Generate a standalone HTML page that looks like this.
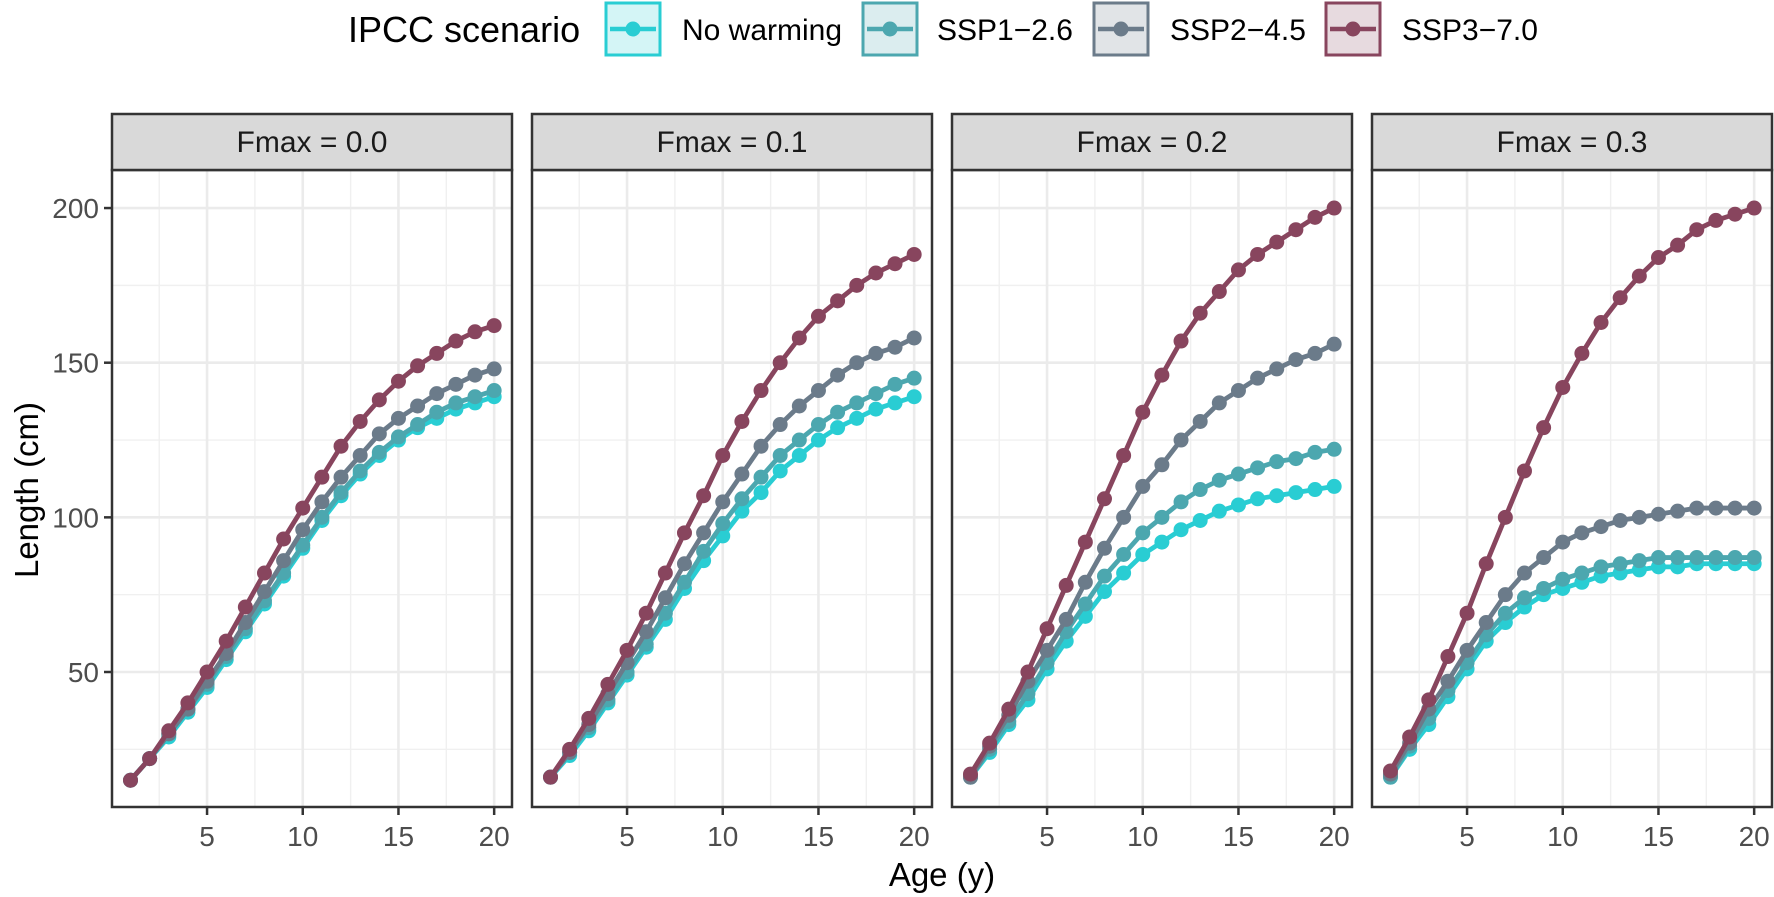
<!DOCTYPE html>
<html><head><meta charset="utf-8"><style>
html,body{margin:0;padding:0;background:#fff}
svg{display:block;font-family:"Liberation Sans",Arial,sans-serif}
</style></head><body>
<svg id="s" width="1774" height="897" xmlns="http://www.w3.org/2000/svg">
<rect width="1774" height="897" fill="#fff"/>
<g id="legend">
<text x="348" y="42" font-size="36" fill="#000">IPCC scenario</text>
<rect x="606" y="3" width="54" height="52" fill="#d4f5f6" stroke="#29cdd3" stroke-width="3"/>
<line x1="610" y1="29" x2="656" y2="29" stroke="#29cdd3" stroke-width="4.5"/><circle cx="633" cy="29" r="7.5" fill="#29cdd3"/>
<text x="682" y="40" font-size="30" fill="#000">No warming</text>
<rect x="863" y="3" width="54" height="52" fill="#dbedef" stroke="#4ca7af" stroke-width="3"/>
<line x1="867" y1="29" x2="913" y2="29" stroke="#4ca7af" stroke-width="4.5"/><circle cx="890" cy="29" r="7.5" fill="#4ca7af"/>
<text x="937" y="40" font-size="30" fill="#000">SSP1−2.6</text>
<rect x="1094" y="3" width="54" height="52" fill="#e1e4e7" stroke="#6b7b8a" stroke-width="3"/>
<line x1="1098" y1="29" x2="1144" y2="29" stroke="#6b7b8a" stroke-width="4.5"/><circle cx="1121" cy="29" r="7.5" fill="#6b7b8a"/>
<text x="1170" y="40" font-size="30" fill="#000">SSP2−4.5</text>
<rect x="1326" y="3" width="54" height="52" fill="#e7dadf" stroke="#88455e" stroke-width="3"/>
<line x1="1330" y1="29" x2="1376" y2="29" stroke="#88455e" stroke-width="4.5"/><circle cx="1353" cy="29" r="7.5" fill="#88455e"/>
<text x="1402" y="40" font-size="30" fill="#000">SSP3−7.0</text>
</g>
<text x="38" y="490" font-size="33" fill="#000" text-anchor="middle" transform="rotate(-90 38 490)">Length (cm)</text>
<text x="942" y="886" font-size="33" fill="#000" text-anchor="middle">Age (y)</text>
<g id="p"></g>
</svg>
<script>
(function(){
const NS="http://www.w3.org/2000/svg";
const g=document.getElementById('p');
function el(t,a,txt){const e=document.createElementNS(NS,t);for(const k in a)e.setAttribute(k,a[k]);if(txt!==undefined)e.textContent=txt;g.appendChild(e);return e;}
const pTop=170,pBot=807;
const Y=v=>672-(v-50)*3.093;
const cols=['#29cdd3','#4ca7af','#6b7b8a','#88455e'];
const data=[
[[15,22,29,37,45,54,63,72,81,90,99,107,114,120,125,129,132,135,137,139],
 [15,22,30,38,46,55,64,73,82,91,100,108,115,121,126,130,134,137,139,141],
 [15,22,30,38,47,56,66,76,86,96,105,113,120,127,132,136,140,143,146,148],
 [15,22,31,40,50,60,71,82,93,103,113,123,131,138,144,149,153,157,160,162]],
[[16,23,31,40,49,58,67,77,86,94,102,108,115,120,125,129,132,135,137,139],
 [16,24,32,41,50,59,69,79,89,98,106,113,120,125,130,134,137,140,143,145],
 [16,24,33,43,53,63,74,85,95,105,114,123,130,136,141,146,150,153,155,158],
 [16,25,35,46,57,69,82,95,107,120,131,141,150,158,165,170,175,179,182,185]],
[[16,24,33,41,51,60,68,76,82,88,92,96,99,102,104,106,107,108,109,110],
 [16,25,34,43,53,63,72,81,88,95,100,105,109,112,114,116,118,119,121,122],
 [16,26,36,47,57,67,79,90,100,110,117,125,131,137,141,145,148,151,153,156],
 [17,27,38,50,64,78,92,106,120,134,146,157,166,173,180,185,189,193,197,200]],
[[16,25,33,42,51,60,66,71,75,77,79,81,82,83,84,84,85,85,85,85],
 [16,26,35,44,53,62,69,74,77,80,82,84,85,86,87,87,87,87,87,87],
 [17,27,38,47,57,66,75,82,87,92,95,97,99,100,101,102,103,103,103,103],
 [18,29,41,55,69,85,100,115,129,142,153,163,171,178,184,188,193,196,198,200]]];
const labels=['Fmax = 0.0','Fmax = 0.1','Fmax = 0.2','Fmax = 0.3'];
for(let p=0;p<4;p++){
 const L=112+p*420,R=L+400;
 const X=a=>L+18.5+(a-1)*19.14;
 el('rect',{x:L,y:pTop,width:400,height:pBot-pTop,fill:'#fff'});
 for(const v of [25,75,125,175])el('line',{x1:L,x2:R,y1:Y(v),y2:Y(v),stroke:'#f0f0f0','stroke-width':1.4});
 for(const a of [2.5,7.5,12.5,17.5])el('line',{x1:X(a),x2:X(a),y1:pTop,y2:pBot,stroke:'#f0f0f0','stroke-width':1.4});
 for(const v of [50,100,150,200])el('line',{x1:L,x2:R,y1:Y(v),y2:Y(v),stroke:'#ebebeb','stroke-width':2.6});
 for(const a of [5,10,15,20])el('line',{x1:X(a),x2:X(a),y1:pTop,y2:pBot,stroke:'#ebebeb','stroke-width':2.6});
 for(let s=0;s<4;s++){
  const d=data[p][s];
  el('polyline',{points:d.map((v,i)=>X(i+1)+','+Y(v)).join(' '),fill:'none',stroke:cols[s],'stroke-width':4.8,'stroke-linejoin':'round'});
  d.forEach((v,i)=>el('circle',{cx:X(i+1),cy:Y(v),r:7.5,fill:cols[s]}));
 }
 el('rect',{x:L,y:pTop,width:400,height:pBot-pTop,fill:'none',stroke:'#333','stroke-width':2.5});
 el('rect',{x:L,y:114,width:400,height:56,fill:'#d9d9d9',stroke:'#333','stroke-width':2.5});
 el('text',{x:L+200,y:152,'font-size':30,'text-anchor':'middle',fill:'#1a1a1a'},labels[p]);
 for(const a of [5,10,15,20]){
  el('line',{x1:X(a),x2:X(a),y1:pBot,y2:pBot+8,stroke:'#333','stroke-width':2.5});
  el('text',{x:X(a),y:846,'font-size':28,'text-anchor':'middle',fill:'#4d4d4d'},a);
 }
}
for(const v of [50,100,150,200]){
 el('line',{x1:104,x2:112,y1:Y(v),y2:Y(v),stroke:'#333','stroke-width':2.5});
 el('text',{x:99,y:Y(v)+10,'font-size':28,'text-anchor':'end',fill:'#4d4d4d'},v);
}
})();
</script>
</body></html>
